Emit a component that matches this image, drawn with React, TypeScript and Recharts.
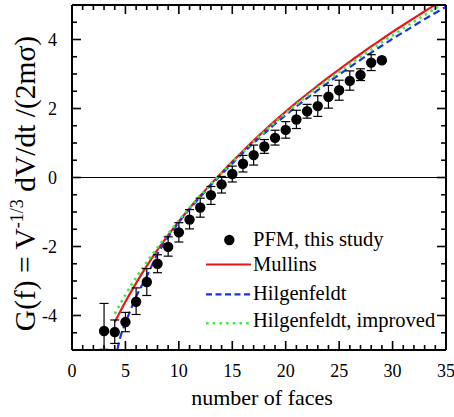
import React from 'react';
import {
  ComposedChart, XAxis, YAxis, Line, Scatter, ErrorBar, ReferenceLine, Legend,
} from 'recharts';

// ---- data ----
const pfmX = [3, 4, 5, 6, 7, 8, 9, 10, 11, 12, 13, 14, 15, 16, 17, 18, 19, 20, 21, 22, 23, 24, 25, 26, 27, 28, 29];
const pfmY = [-4.45, -4.48, -4.19, -3.6, -3.03, -2.5, -2.01, -1.59, -1.22, -0.87, -0.51, -0.2, 0.1, 0.4, 0.65, 0.9, 1.15, 1.38, 1.68, 1.92, 2.07, 2.34, 2.53, 2.8, 2.97, 3.33, 3.4];
const pfmErrLow = [0.53, 0.33, 0.28, 0.37, 0.39, 0.26, 0.27, 0.28, 0.27, 0.28, 0.27, 0.25, 0.23, 0.24, 0.29, 0.2, 0.21, 0.24, 0.26, 0.2, 0.3, 0.33, 0.29, 0.27, 0.16, 0.23, 0.04];
const pfmErrHigh = [0.8, 0.35, 0.28, 0.4, 0.39, 0.26, 0.29, 0.28, 0.29, 0.27, 0.25, 0.23, 0.23, 0.24, 0.29, 0.2, 0.22, 0.24, 0.27, 0.2, 0.3, 0.33, 0.29, 0.29, 0.18, 0.23, 0.04];

const mullinsX = [4, 5, 6, 7, 8, 9, 10, 11, 12, 13, 14, 15, 16, 17, 18, 19, 20, 21, 22, 23, 24, 25, 26, 27, 28, 29, 30, 31, 32, 33, 34, 35];
const mullinsY = [-4.19, -3.6, -3.06, -2.56, -2.1, -1.67, -1.27, -0.89, -0.53, -0.19, 0.14, 0.46, 0.77, 1.07, 1.36, 1.64, 1.91, 2.17, 2.42, 2.66, 2.9, 3.13, 3.36, 3.58, 3.8, 4.01, 4.22, 4.42, 4.62, 4.82, 5.01, 5.2];

const hilgX = [4.05, 4.5, 5, 6, 7, 8, 9, 10, 11, 12, 13, 14, 15, 16, 17, 18, 19, 20, 21, 22, 23, 24, 25, 26, 27, 28, 29, 30, 31, 32, 33, 34, 35];
const hilgY = [-5.3, -4.65, -4.22, -3.46, -2.86, -2.22, -1.73, -1.3, -0.92, -0.56, -0.22, 0.1, 0.41, 0.71, 1.0, 1.28, 1.55, 1.81, 2.06, 2.3, 2.53, 2.76, 2.98, 3.2, 3.41, 3.62, 3.82, 4.02, 4.21, 4.4, 4.59, 4.77, 4.95];

const hilgImpX = [4, 5, 6, 7, 8, 9, 10, 11, 12, 13, 14, 15, 16, 17, 18, 19, 20, 21, 22, 23, 24, 25, 26, 27, 28, 29, 30, 31, 32, 33, 34, 35];
const hilgImpY = [-3.95, -3.4, -2.9, -2.45, -2.03, -1.63, -1.25, -0.88, -0.53, -0.19, 0.13, 0.44, 0.74, 1.04, 1.32, 1.6, 1.86, 2.12, 2.36, 2.6, 2.83, 3.06, 3.28, 3.5, 3.71, 3.92, 4.12, 4.32, 4.52, 4.71, 4.9, 5.08];

const xTicks = Array.from({ length: 36 }, (_, i) => i);
const yTicks = Array.from({ length: 19 }, (_, i) => -4.5 + i * 0.5);

const legendLabels = ['PFM, this study', 'Mullins', 'Hilgenfeldt', 'Hilgenfeldt, improved'];
const xTitle = 'number of faces';

// ---- derived tables ----
const pfmData = pfmX.map((x, i) => ({ x, y: pfmY[i], err: [pfmErrLow[i], pfmErrHigh[i]] }));
const mullinsData = mullinsX.map((x, i) => ({ x, y: mullinsY[i] }));
const hilgData = hilgX.map((x, i) => ({ x, y: hilgY[i] }));
const hilgImpData = hilgImpX.map((x, i) => ({ x, y: hilgImpY[i] }));

const FONT = 'Liberation Serif, DejaVu Serif, serif';
const RED = '#e8161c';
const BLUE = '#1a30e6';
const GREEN = '#3ded3d';

const isMajorX = (v: number) => v % 5 === 0;
const isMajorY = (v: number) => Math.abs(v % 2) < 1e-6;
const txt = (size: number) => ({ fontFamily: FONT, fontSize: size });

const BottomTick = (p: any) => {
  const v = p.payload.value;
  const major = isMajorX(v);
  return (
    <g>
      <line x1={p.x} y1={p.y} x2={p.x} y2={p.y - (major ? 9 : 5)} stroke="#000" strokeWidth={1.6} />
      {major && (
        <text x={p.x} y={p.y + 27} textAnchor="middle" style={txt(18)} fill="#000">{v}</text>
      )}
    </g>
  );
};
const TopTick = (p: any) => {
  const v = p.payload.value;
  const major = isMajorX(v);
  return <line x1={p.x} y1={p.y} x2={p.x} y2={p.y + (major ? 9 : 5)} stroke="#000" strokeWidth={1.6} />;
};
const LeftTick = (p: any) => {
  const v = p.payload.value;
  const major = isMajorY(v);
  return (
    <g>
      <line x1={p.x} y1={p.y} x2={p.x + (major ? 9 : 5)} y2={p.y} stroke="#000" strokeWidth={1.6} />
      {major && (
        <text x={p.x - 15} y={p.y + 6} textAnchor="end" style={txt(18)} fill="#000">{v}</text>
      )}
    </g>
  );
};
const RightTick = (p: any) => {
  const v = p.payload.value;
  const major = isMajorY(v);
  return <line x1={p.x} y1={p.y} x2={p.x - (major ? 9 : 5)} y2={p.y} stroke="#000" strokeWidth={1.6} />;
};

function XTitle(p: any) {
  const vb = p.viewBox;
  return (
    <text x={vb.x + vb.width / 2 + 3} y={vb.y + 55} textAnchor="middle" style={txt(22)} fill="#000">{xTitle}</text>
  );
}
function YTitle(p: any) {
  const vb = p.viewBox;
  const cx = vb.x + vb.width - 37;
  const cy = vb.y + vb.height / 2 + 6;
  return (
    <text transform={`translate(${cx},${cy}) rotate(-90)`} textAnchor="middle" style={txt(29.5)} fill="#000">
      G(f) = V<tspan dy={-12} style={txt(18)}>-1/3</tspan><tspan dy={12}> dV/dt /(2mσ)</tspan>
    </text>
  );
}

const LegendBox = () => (
  <svg width={254} height={112} style={{ display: 'block' }}>
    <circle cx={29.3} cy={15} r={5.2} fill="#000" />
    <line x1={6} y1={39.5} x2={51} y2={39.5} stroke={RED} strokeWidth={2.2} />
    <line x1={6} y1={69.3} x2={51} y2={69.3} stroke={BLUE} strokeWidth={2.2} strokeDasharray="6 3.5" />
    <line x1={6} y1={98.3} x2={51} y2={98.3} stroke={GREEN} strokeWidth={2.6} strokeDasharray="2.5 4.2" />
    {legendLabels.map((t, i) => (
      <text key={t} x={53} y={[21, 46, 75, 102][i]} style={txt(20.5)} fill="#000">{t}</text>
    ))}
  </svg>
);

export default function App() {
  return (
    <div style={{ position: 'absolute', left: 0, top: 0 }}>
      <ComposedChart width={454} height={417} margin={{ top: 4, right: 7, bottom: 66, left: 71 }}>
        <XAxis
          xAxisId={0} type="number" dataKey="x" domain={[0, 35]} ticks={xTicks} interval={0}
          allowDataOverflow height={1} tickSize={0} tickMargin={0} tickLine={false}
          axisLine={{ stroke: '#000', strokeWidth: 2 }} tick={BottomTick}
          label={{ content: XTitle }}
        />
        <XAxis
          xAxisId="top" orientation="top" type="number" dataKey="x" domain={[0, 35]} ticks={xTicks} interval={0}
          allowDataOverflow height={1} tickSize={0} tickMargin={0} tickLine={false}
          axisLine={{ stroke: '#000', strokeWidth: 2 }} tick={TopTick}
        />
        <YAxis
          yAxisId={0} type="number" domain={[-5, 5]} ticks={yTicks} interval={0}
          allowDataOverflow width={1} tickSize={0} tickMargin={0} tickLine={false}
          axisLine={{ stroke: '#000', strokeWidth: 2 }} tick={LeftTick}
          label={{ content: YTitle }}
        />
        <YAxis
          yAxisId="right" orientation="right" type="number" domain={[-5, 5]} ticks={yTicks} interval={0}
          allowDataOverflow width={1} tickSize={0} tickMargin={0} tickLine={false}
          axisLine={{ stroke: '#000', strokeWidth: 2 }} tick={RightTick}
        />
        <ReferenceLine y={0} stroke="#000" strokeWidth={1} />
        <Line data={mullinsData} dataKey="y" type="monotone" stroke={RED} strokeWidth={2.2} dot={false} isAnimationActive={false} />
        <Line data={hilgData} dataKey="y" type="monotone" stroke={BLUE} strokeWidth={2.2} strokeDasharray="7 4" dot={false} isAnimationActive={false} />
        <Line data={hilgImpData} dataKey="y" type="monotone" stroke={GREEN} strokeWidth={2.6} strokeDasharray="2.5 4" dot={false} isAnimationActive={false} />
        <Scatter
          data={pfmData} dataKey="y" isAnimationActive={false}
          shape={(p: any) => <circle cx={p.cx} cy={p.cy} r={5.2} fill="#000" />}
        >
          <ErrorBar dataKey="err" direction="y" width={4.5} stroke="#000" strokeWidth={1.2} isAnimationActive={false} />
        </Scatter>
        <Legend
          layout="horizontal" verticalAlign="middle" align="center"
          wrapperStyle={{ left: 200, top: 225, width: 254, height: 112 }}
          content={() => <LegendBox />}
        />
      </ComposedChart>
    </div>
  );
}
